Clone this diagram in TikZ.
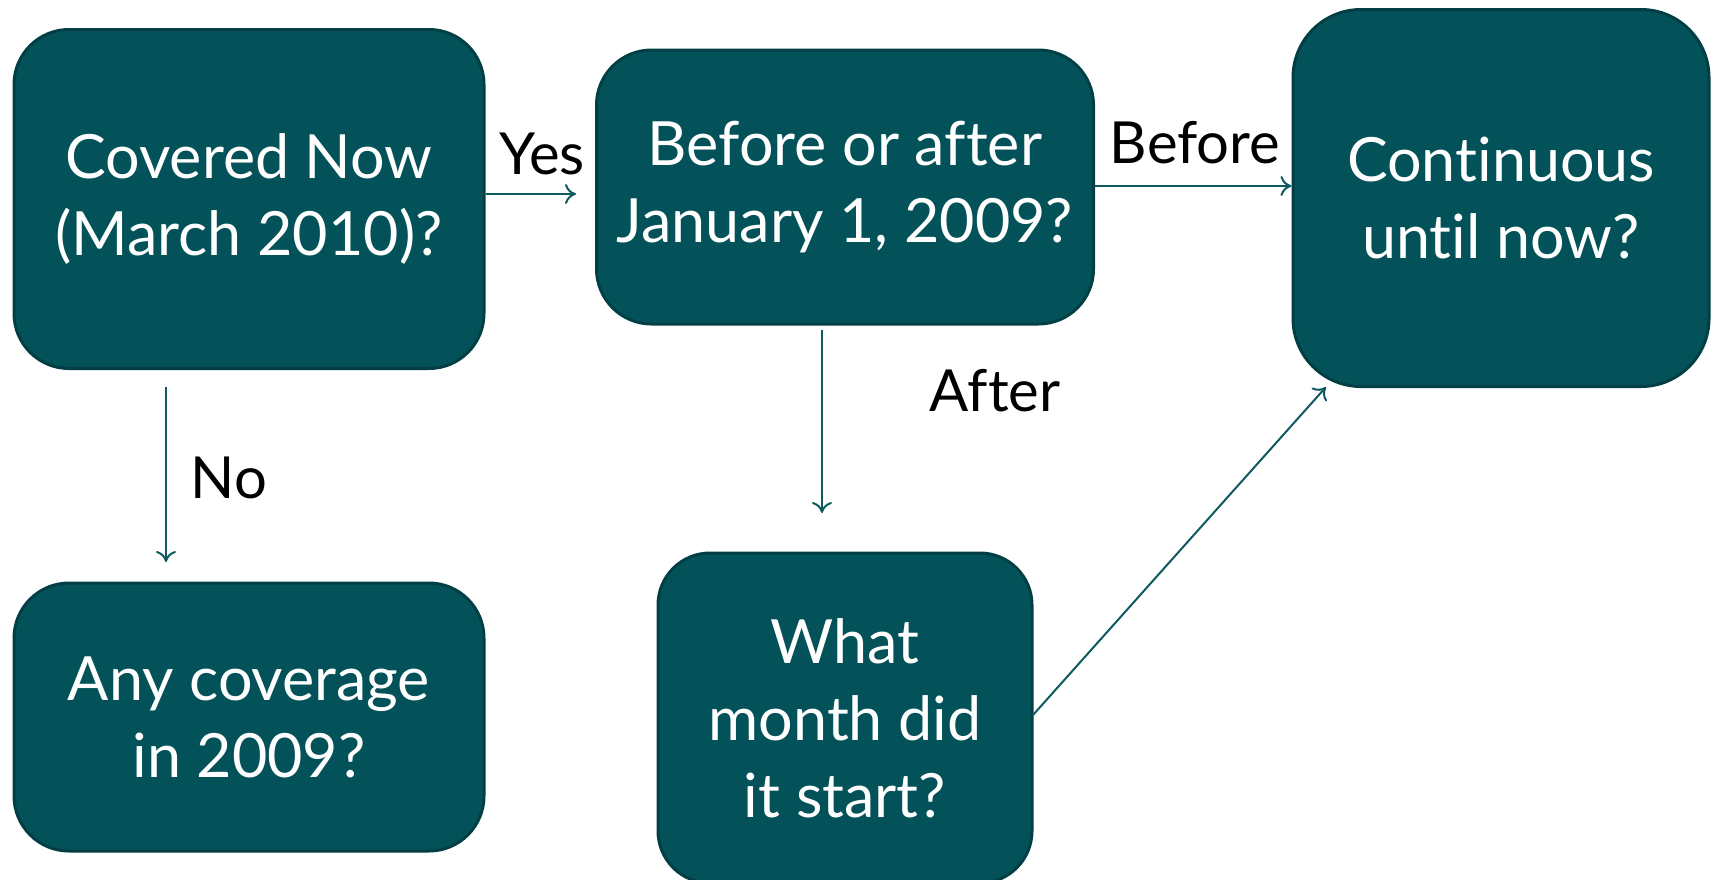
\documentclass[tikz,border=0pt]{standalone}
\usepackage{fontspec}
\setmainfont[Ligatures=NoCommon]{Lato}
\usetikzlibrary{arrows.meta}
\definecolor{boxfill}{HTML}{03525A}
\definecolor{boxedge}{HTML}{023F45}
\definecolor{arrowc}{HTML}{0D5A60}
\begin{document}
\begin{tikzpicture}[x=1pt,y=-1pt,
  qbox/.style={draw=boxedge, line width=3pt, fill=boxfill, rounded corners=#1,
    text=white, align=center, font=\fontsize{61}{77}\selectfont, inner sep=0pt},
  qbox/.default=55pt,
  conn/.style={draw=arrowc, line width=2pt, -{To[length=11pt,width=20pt,line width=2pt]}},
  lbl/.style={text=black, font=\fontsize{58}{66}\selectfont, inner sep=0pt}]
\useasboundingbox (0,0) rectangle (1711,879);
\node[qbox, minimum width=470pt, minimum height=339pt] (cov) at (249,199) {Covered Now\\(March 2010)?};
\node[qbox, minimum width=497pt, minimum height=274pt] (ba) at (845,187) {Before or after\\January 1, 2009?};
\node[qbox=68pt, minimum width=416pt, minimum height=377pt] (cont) at (1501,198) {Continuous\\until now?};
\node[qbox, minimum width=470pt, minimum height=268pt] (any) at (249,717) {Any coverage\\in 2009?};
\node[qbox=52pt, minimum width=374pt, minimum height=330pt] (month) at (845,718) {What\\month did\\it start?};
\coordinate (yesend) at (576,194);
\coordinate (nos) at (166,387);
\coordinate (noe) at (166,562);
\coordinate (afs) at (822,330);
\coordinate (afe) at (822,513);
\coordinate (dgs) at (1033,715);
\coordinate (dge) at (1326,387);
\draw[conn] (cov.east |- yesend) -- (yesend);
\draw[conn] (ba.east |- 0,186) -- (cont.west |- 0,186);
\draw[conn] (nos) -- (noe);
\draw[conn] (afs) -- (afe);
\draw[conn] (dgs) -- (dge);
\node[lbl] (yes) at (542,154) {Yes};
\node[lbl] (bef) at (1195,143) {Before};
\node[lbl] (aft) at (995,391) {After};
\node[lbl] (no) at (229,478) {No};
\end{tikzpicture}
\end{document}
